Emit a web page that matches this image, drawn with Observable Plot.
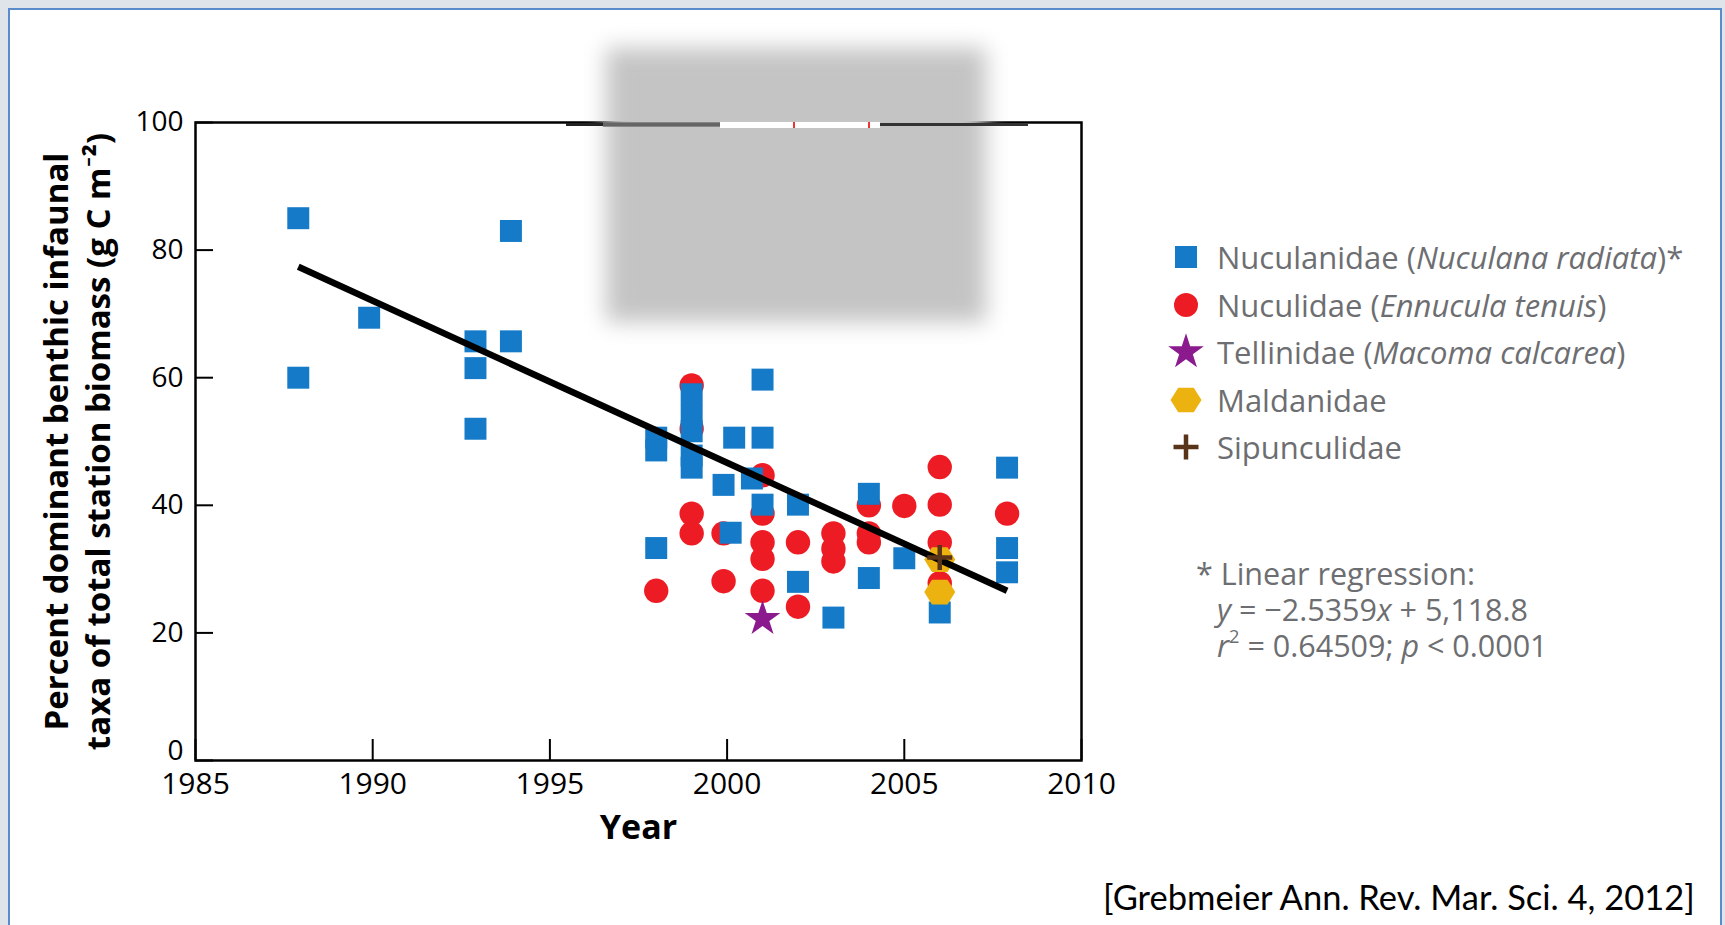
<!DOCTYPE html>
<html>
<head>
<meta charset="utf-8">
<script src="https://cdn.jsdelivr.net/npm/d3@7"></script>
<script src="https://cdn.jsdelivr.net/npm/@observablehq/plot@0.6"></script>
<style>
  html, body { margin: 0; padding: 0; width: 1725px; height: 925px; overflow: hidden; background: #dfe4ea; }
  #slide { position: absolute; left: 8px; top: 8px; width: 1714px; height: 960px; background: #fff; border: 2px solid #5a8ccb; box-sizing: border-box; }
  #chart { position: absolute; left: 0; top: 0; }
  #blur { position: absolute; left: 606px; top: 48px; width: 380px; height: 274px; background: #c4c4c4; filter: blur(11px); }
  .strip { position: absolute; }
  .legend { position: absolute; left: 1168px; top: 0; font-family: "Open Sans", Lato, sans-serif; color: #6d6e71; font-size: 31px; }
  .row { position: absolute; left: 0; height: 44px; display: flex; align-items: center; white-space: nowrap; }
  .row svg { width: 36px; height: 40px; flex: none; }
  .row span.t { margin-left: 13px; }
  .note { position: absolute; font-family: "Open Sans", Lato, sans-serif; color: #6d6e71; font-size: 30.5px; white-space: nowrap; line-height: 36px; }
  .note sup { font-size: 0.6em; line-height: 0; vertical-align: 0.75em; }
  .cite { position: absolute; left: 1103px; top: 876px; font-family: Lato, "Open Sans", sans-serif; font-size: 34.5px; color: #000; white-space: nowrap; }
</style>
</head>
<body>
<div id="slide"></div>
<div id="chart"></div>
<div id="blur"></div>
<div class="strip" style="left:566px; top:123px; width:154px; height:3px; background:#222;"></div>
<div class="strip" style="left:603px; top:122px; width:117px; height:5px; background:#777; opacity:0.8;"></div>
<div class="strip" style="left:720px; top:122px; width:160px; height:6px; background:#fff;"></div>
<div class="strip" style="left:793px; top:122px; width:2px; height:6px; background:#e33;"></div>
<div class="strip" style="left:868px; top:122px; width:2px; height:6px; background:#e33;"></div>
<div class="strip" style="left:880px; top:123px; width:148px; height:3px; background:#333;"></div>
<div class="legend" id="legend"></div>
<div class="note" id="note" style="left:1196px; top:555px;"></div>
<div class="cite" id="cite"></div>
<script>
// ---------------- data ----------------
const xTicks = [1985, 1990, 1995, 2000, 2005, 2010];
const yTicks = [0, 20, 40, 60, 80, 100];

const nuculanidaeYear  = [1987.9, 1987.9, 1989.9, 1992.9, 1992.9, 1992.9, 1993.9, 1993.9, 1998, 1998, 1998, 1999, 1999, 1999, 1999, 1999, 1999.9, 2000.1, 2000.2, 2000.7, 2001, 2001, 2001, 2002, 2002, 2003, 2004, 2004, 2005, 2006, 2007.9, 2007.9, 2007.9];
const nuculanidaeValue = [85, 60, 69.4, 65.7, 61.5, 52.0, 83, 65.7, 50.6, 48.6, 33.3, 57.4, 54.0, 51.6, 47.8, 45.9, 43.2, 35.7, 50.6, 44.2, 59.7, 50.6, 40.1, 40.1, 28.0, 22.4, 41.8, 28.6, 31.7, 23.2, 45.9, 33.3, 29.5];

const nuculidaeYear  = [1998, 1999, 1999, 1999, 1999, 1999.9, 1999.9, 2001, 2001, 2001, 2001, 2001, 2002, 2002, 2003, 2003, 2003, 2004, 2004, 2004, 2005, 2006, 2006, 2006, 2006, 2007.9];
const nuculidaeValue = [26.6, 58.8, 52.0, 38.7, 35.6, 35.6, 28.1, 44.7, 38.7, 34.2, 31.6, 26.6, 34.2, 24.1, 35.6, 33.2, 31.2, 40.0, 35.6, 34.2, 39.9, 46.0, 40.1, 34.2, 27.8, 38.7];

const tellinidaeYear = [2001];
const tellinidaeValue = [22.2];

const maldanidaeYear = [2006, 2006];
const maldanidaeValue = [31.5, 26.4];

const sipunculidaeYear = [2006];
const sipunculidaeValue = [31.8];

// regression: y = -2.5359x + 5,118.8 (endpoints)
const regressionYear = [1987.9, 2007.9];
const regressionValue = [77.4, 26.6];

const seriesNames = ["Nuculanidae", "Nuculidae", "Tellinidae", "Maldanidae", "Sipunculidae"];
const seriesSpecies = ["Nuculana radiata", "Ennucula tenuis", "Macoma calcarea", null, null];
const seriesSuffix = ["*", "", "", "", ""];

const yLabel = "Percent dominant benthic infaunal\ntaxa of total station biomass (g C m\u207B\u00B2)";
const xLabel = "Year";
const noteLines = ["Linear regression:", "y = \u22122.5359x + 5,118.8", "r\u00B2 = 0.64509; p < 0.0001"];
const citation = "[Grebmeier Ann. Rev. Mar. Sci. 4, 2012]";

// ---------------- styles ----------------
const COL = {sq: "#157bc8", ci: "#ed1c24", st: "#8b1a8e", hx: "#ecb20f", pl: "#5a3419"};

const hexagon = {
  draw(context, size) {
    const R = Math.sqrt(size / Math.PI);
    for (let i = 0; i < 6; i++) {
      const a = i * Math.PI / 3;
      const px = R * Math.cos(a), py = R * Math.sin(a) * 0.92;
      if (i === 0) context.moveTo(px, py); else context.lineTo(px, py);
    }
    context.closePath();
  }
};
const plusSym = {
  draw(context, size) {
    const a = Math.sqrt(size / Math.PI);
    context.moveTo(-a, 0); context.lineTo(a, 0);
    context.moveTo(0, -a); context.lineTo(0, a);
  }
};

const zip = (xs, ys) => xs.map((x, i) => ({x, y: ys[i]}));

const W = 1100, H = 860, ML = 195, MR = 19, MT = 122, MB = 100;
const innerH = H - MT - MB, innerW = W - ML - MR;
const FONT = "'Open Sans', Lato, sans-serif";

const chart = Plot.plot({
  width: W, height: H,
  marginLeft: ML, marginRight: MR, marginTop: MT, marginBottom: MB,
  style: {background: "transparent", fontFamily: FONT, color: "#000", overflow: "visible"},
  x: {domain: [1985, 2010]},
  y: {domain: [0, 100]},
  marks: [
    Plot.tickX(xTicks, {x: d => d, insetTop: innerH - 21, stroke: "#000", strokeWidth: 2}),
    Plot.tickY(yTicks, {y: d => d, insetRight: innerW - 18, stroke: "#000", strokeWidth: 2}),
    Plot.axisX({ticks: xTicks, tickSize: 0, tickPadding: 12, fontSize: 30, tickFormat: d => String(d), label: null}),
    Plot.axisY({ticks: yTicks.filter(d => d > 0), tickSize: 0, tickPadding: 12, fontSize: 28, label: null}),
    Plot.axisY({ticks: yTicks.filter(d => d === 0), tickSize: 0, tickPadding: 12, fontSize: 28, dy: -9, label: null}),
    Plot.dot(zip(nuculidaeYear, nuculidaeValue), {x: "x", y: "y", r: 12.2, symbol: "circle", fill: COL.ci, stroke: "none"}),
    Plot.dot(zip(nuculanidaeYear, nuculanidaeValue), {x: "x", y: "y", r: 12.4, symbol: "square", fill: COL.sq, stroke: "none"}),
    Plot.dot(zip(tellinidaeYear, tellinidaeValue), {x: "x", y: "y", r: 11.2, symbol: "star", fill: COL.st, stroke: "none"}),
    Plot.dot(zip(maldanidaeYear, maldanidaeValue), {x: "x", y: "y", r: 15.5, symbol: hexagon, fill: COL.hx, stroke: "none"}),
    Plot.line(zip(regressionYear, regressionValue), {x: "x", y: "y", stroke: "#000", strokeWidth: 6.5, strokeLinecap: "butt"}),
    Plot.dot(zip(sipunculidaeYear, sipunculidaeValue), {x: "x", y: "y", r: 12.5, symbol: plusSym, fill: "none", stroke: COL.pl, strokeWidth: 4.5}),
    Plot.frame({stroke: "#000", strokeWidth: 2.5}),
    Plot.text([xLabel], {frameAnchor: "bottom", dy: 78, fontWeight: "bold", fontSize: 34, fill: "#000"}),
    Plot.text([yLabel], {frameAnchor: "left", textAnchor: "middle", rotate: -90, dx: -120, fontWeight: "bold", fontSize: 33, lineHeight: 1.26, fill: "#000"})
  ]
});
document.getElementById("chart").appendChild(chart);

// ---------------- legend ----------------
const legendSymbols = [
  {sym: d3.symbolSquare, size: 22 * 22, fill: COL.sq},
  {sym: d3.symbolCircle, size: Math.PI * 12 * 12, fill: COL.ci},
  {sym: d3.symbolStar, size: Math.PI * 11.2 * 11.2, fill: COL.st},
  {sym: hexagon, size: Math.PI * 15.5 * 15.5, fill: COL.hx},
  {sym: plusSym, size: Math.PI * 12.5 * 12.5, stroke: COL.pl}
];
const rowCenters = [257, 305, 352, 400, 447];
const legend = document.getElementById("legend");
seriesNames.forEach((name, i) => {
  const row = document.createElement("div");
  row.className = "row";
  row.style.top = (rowCenters[i] - 22) + "px";
  const s = legendSymbols[i];
  const path = d3.symbol(s.sym, s.size)();
  const svg = `<svg viewBox="-18 -20 36 40"><path d="${path}" fill="${s.fill || "none"}" stroke="${s.stroke || "none"}" stroke-width="${s.stroke ? 4.5 : 0}"/></svg>`;
  let txt = name;
  if (seriesSpecies[i]) txt += ` (<i>${seriesSpecies[i]}</i>)`;
  txt += seriesSuffix[i];
  row.innerHTML = svg + `<span class="t">${txt}</span>`;
  legend.appendChild(row);
});

// ---------------- note ----------------
const note = document.getElementById("note");
note.innerHTML =
  `<div>* ${noteLines[0]}</div>` +
  `<div style="padding-left:21px"><i>y</i> = \u22122.5359<i>x</i> + 5,118.8</div>` +
  `<div style="padding-left:21px"><i>r</i><sup>2</sup> = 0.64509; <i>p</i> &lt; 0.0001</div>`;

document.getElementById("cite").textContent = citation;
</script>
</body>
</html>
